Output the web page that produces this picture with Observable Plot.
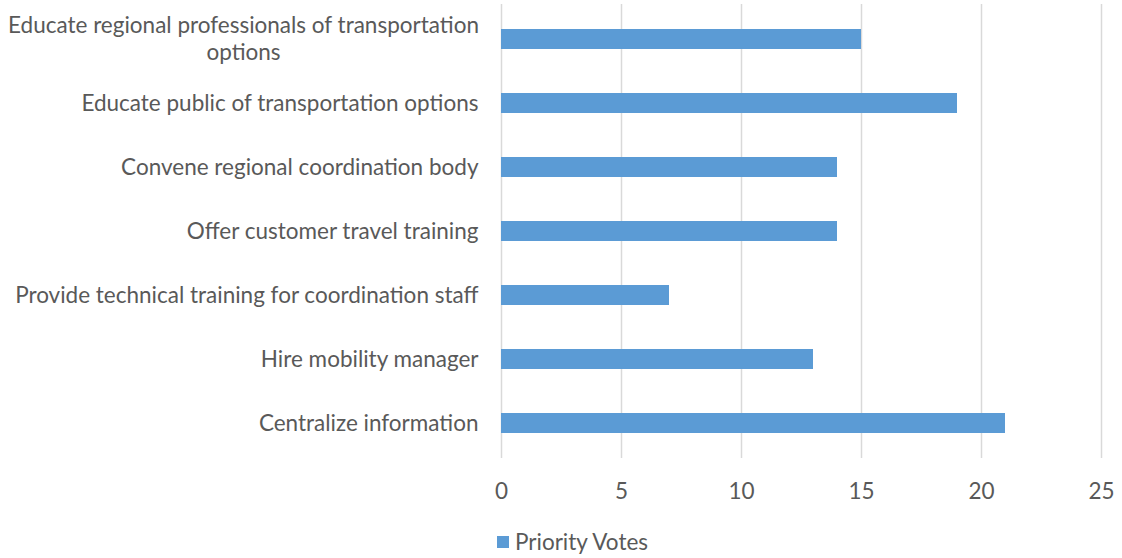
<!DOCTYPE html>
<html>
<head>
<meta charset="utf-8">
<script src="https://cdn.jsdelivr.net/npm/d3@7"></script>
<script src="https://cdn.jsdelivr.net/npm/@observablehq/plot@0.6"></script>
<style>
  body { margin: 0; background: #fff; font-family: Lato, "Open Sans", sans-serif; }
  #chart svg { display: block; }
  .legend { display: flex; align-items: center; margin-left: 497px; margin-top: 18px; font-size: 22.5px; line-height: 27px; color: #595959; }
  .legend .sw { width: 12px; height: 12px; background: #5B9BD5; margin-right: 6px; }
</style>
</head>
<body>
<div id="chart"></div>
<div class="legend"><span class="sw"></span><span>Priority Votes</span></div>
<script>
const categories = [
  "Educate regional professionals of transportation\noptions",
  "Educate public of transportation options",
  "Convene regional coordination body",
  "Offer customer travel training",
  "Provide technical training for coordination staff",
  "Hire mobility manager",
  "Centralize information"
];
const votes = [15, 19, 14, 14, 7, 13, 21];
const xTicks = [0, 5, 10, 15, 20, 25];
const seriesName = "Priority Votes";

const data = categories.map((c, i) => ({category: c, value: votes[i]}));
const wrapped = categories.filter(c => c.includes("\n"));
const single = categories.filter(c => !c.includes("\n"));

const chart = Plot.plot({
  width: 1122,
  height: 510,
  marginLeft: 501,
  marginRight: 21,
  marginTop: 4,
  marginBottom: 52,
  style: {fontFamily: "Lato, 'Open Sans', sans-serif", fontSize: "22.5px", color: "#595959", background: "#fff"},
  x: {domain: [0, 25], ticks: xTicks},
  y: {domain: categories, paddingInner: 0.69, paddingOuter: 0.345, align: 0.5},
  marks: [
    Plot.gridX(xTicks, {stroke: "#d9d9d9", strokeOpacity: 1, strokeWidth: 1.5}),
    Plot.barX(data, {x: "value", y: "category", fill: "#5B9BD5"}),
    Plot.axisX({ticks: xTicks, tickSize: 0, tickPadding: 25, fontSize: 22.5, fill: "#595959", label: null}),
    Plot.axisY({ticks: single, tickSize: 0, tickPadding: 23, fontSize: 22.5, fill: "#595959", label: null}),
    Plot.axisY({ticks: wrapped, tickSize: 0, tickPadding: 0, textAnchor: "middle", dx: -258, dy: -2, fontSize: 22.5, fill: "#595959", label: null, lineHeight: 1.2})
  ]
});
document.getElementById("chart").appendChild(chart);
</script>
</body>
</html>
